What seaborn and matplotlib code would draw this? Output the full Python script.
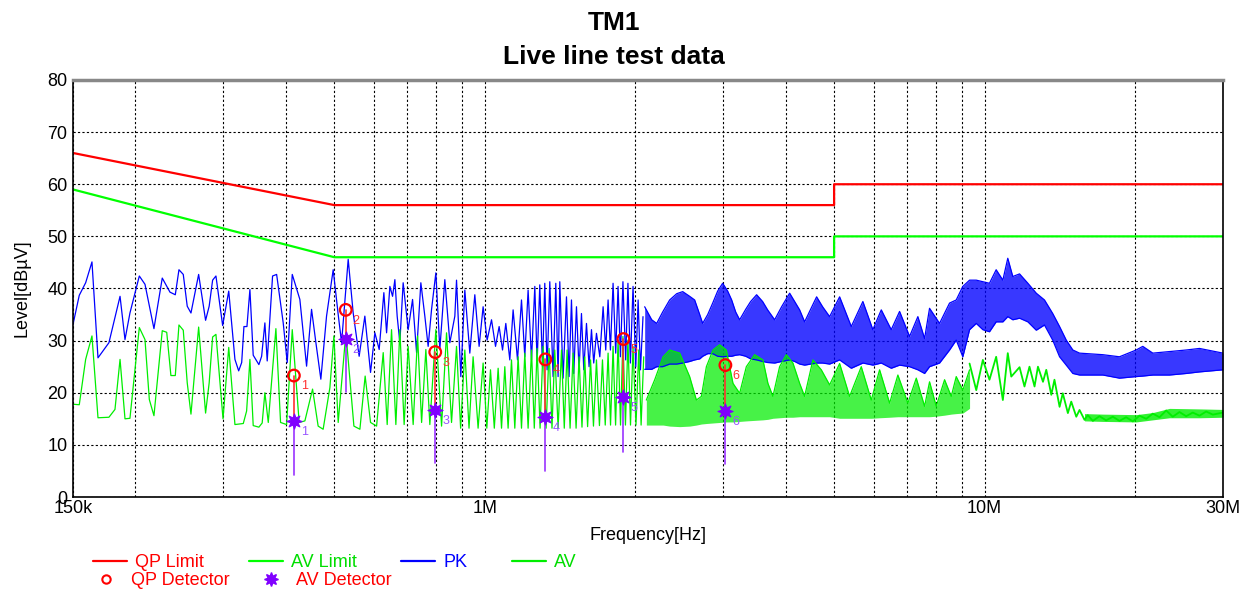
import numpy as np
import seaborn as sns
import matplotlib.pyplot as plt
from matplotlib.lines import Line2D
from matplotlib.ticker import FixedLocator, NullFormatter

sns.set_style('white')
plt.rcParams['font.family'] = ['Liberation Sans', 'DejaVu Sans']
plt.rcParams['text.color'] = 'black'
plt.rcParams['axes.labelcolor'] = 'black'
plt.rcParams['xtick.color'] = 'black'
plt.rcParams['ytick.color'] = 'black'

# limit lines (MHz, dBuV)
limit_freq = [0.15, 0.5, 5, 5, 30]
qp_limit = [66, 56, 56, 60, 60]
av_limit = [59, 46, 46, 50, 50]

# PK trace, 150k - 2M read point by point (kHz)
pk_freq_khz = [
    150.0, 154.4, 159.0, 163.7, 168.3, 177.0, 186.3, 190.6, 195.0, 203.6,
    209.0, 217.8, 226.3, 234.5, 240.3, 244.4, 249.3, 253.9, 258.3, 267.6,
    276.3, 280.9, 285.4, 289.8, 298.9, 307.4, 316.3, 321.8, 326.3, 329.7,
    334.3, 338.9, 344.1, 353.2, 357.7, 363.1, 367.0, 376.2, 383.3, 395.1,
    402.5, 411.9, 426.6, 440.0, 450.2, 459.3, 469.9, 482.4, 497.4, 509.0,
    517.0, 533.0, 545.4, 560.6, 575.5, 590.8, 602.7, 614.8, 628.2, 636.1,
    645.8, 653.9, 660.9, 667.9, 676.2, 686.6, 702.6, 717.0, 730.4, 744.9,
    758.7, 770.4, 782.6, 798.2, 813.0, 831.9, 851.3, 871.2, 878.0, 895.5,
    912.2, 933.4, 955.2, 974.3, 992.4, 1010.9, 1031.6, 1050.8, 1068.4, 1085.3,
    1101.8, 1122.3, 1139.5, 1162.8, 1184.4, 1202.6, 1221.0, 1240.3, 1259.3, 1272.7,
    1288.5, 1304.7, 1318.5, 1332.6, 1349.3, 1369.9, 1387.1, 1401.9, 1412.9, 1434.5,
    1457.1, 1474.7, 1491.0, 1506.9, 1525.8, 1544.1, 1561.3, 1578, 1597.8, 1617,
    1635, 1652, 1673, 1699, 1725, 1746, 1765, 1784, 1806, 1828,
    1848, 1868, 1890, 1914, 1934, 1956, 1980, 2005, 2027, 2049,
    2073]
pk_level = [
    33.1, 38.7, 41.1, 45.1, 26.7, 29.6, 38.5, 30.2, 35.3, 42.4,
    40.8, 32.3, 42.0, 39.3, 38.8, 43.6, 42.7, 36.6, 35.3, 42.7,
    33.9, 36.6, 41.6, 42.4, 32.9, 39.5, 26.4, 24.2, 25.8, 32.7,
    32.7, 39.8, 27.2, 25.4, 27.0, 33.4, 26.1, 42.4, 42.7, 33.4,
    25.8, 42.7, 37.9, 25.1, 36.0, 29.6, 22.6, 34.7, 43.6, 35.0,
    29.6, 45.6, 35.3, 27.0, 34.7, 23.9, 31.5, 28.3, 39.2, 31.5,
    40.4, 38.5, 41.7, 34.7, 29.6, 41.1, 32.1, 37.9, 27.7, 41.1,
    34.7, 28.9, 36.0, 43.0, 28.3, 41.7, 29.6, 34.7, 41.6, 23.1,
    39.7, 27.6, 38.8, 28.9, 36.5, 30.1, 34.0, 28.9, 32.7, 28.2,
    33.3, 26.3, 35.9, 26.3, 37.8, 26.9, 39.7, 26.3, 40.4, 25.7,
    40.7, 25.0, 41.0, 24.4, 41.3, 23.1, 41.0, 23.1, 41.3, 22.8,
    38.4, 23.1, 37.8, 23.7, 36.5, 24.1, 35.2, 24.4, 33.3, 25.0,
    32.1, 25.7, 31.4, 26.9, 36.5, 28.2, 37.8, 28.2, 41.0, 27.6,
    40.4, 26.9, 41.3, 26.3, 41.0, 25.7, 40.4, 25.0, 37.8, 24.4,
    34.6]

# PK trace above 2M, dense: upper / lower envelope (MHz)
pk_band_freq = [
    2.089, 2.158, 2.208, 2.270, 2.344, 2.421, 2.489, 2.570, 2.630, 2.692,
    2.729, 2.793, 2.858, 2.924, 2.992, 3.062, 3.119, 3.177, 3.236, 3.327,
    3.404, 3.499, 3.597, 3.681, 3.802, 3.926, 4.074, 4.169, 4.266, 4.365,
    4.487, 4.613, 4.742, 4.898, 5.129, 5.412, 5.709, 5.978, 6.214, 6.506,
    6.761, 7.079, 7.355, 7.586, 7.762, 8.128, 8.511, 8.777, 9.048, 9.333,
    9.625, 9.922, 10.23, 10.55, 10.88, 11.13, 11.39, 11.75, 12.21, 12.69,
    13.18, 13.69, 14.13, 14.57, 15.02, 15.49, 17.25, 18.62, 20.11, 20.73,
    21.71, 23.44, 25.32, 26.92, 30.0]
pk_band_hi = [
    36.5, 34.0, 33.3, 35.5, 37.8, 39.0, 39.4, 38.5, 37.8, 35.0,
    33.3, 35.0, 37.2, 39.5, 41.0, 39.5, 37.8, 35.5, 34.0, 36.0,
    37.5, 38.8, 37.5, 35.9, 34.0, 36.5, 39.1, 37.5, 35.9, 33.6,
    36.0, 38.4, 36.5, 34.6, 38.4, 32.7, 37.5, 32.1, 35.9, 32.1,
    35.6, 30.8, 34.6, 30.4, 36.2, 33.3, 37.2, 37.8, 40.4, 41.6,
    41.6, 41.3, 41.0, 43.6, 41.6, 45.8, 42.3, 42.8, 41.0, 39.1,
    37.8, 35.2, 32.7, 30.1, 28.2, 27.6, 27.3, 26.9, 28.2, 28.9,
    27.6, 27.9, 28.2, 28.5, 27.6]
pk_band_lo = [
    24.5, 24.5, 25.0, 25.0, 25.5, 25.5, 25.7, 26.0, 26.3, 26.5,
    27.0, 27.5, 27.5, 27.0, 26.9, 27.0, 27.0, 27.2, 27.3, 27.0,
    26.5, 26.3, 26.0, 25.8, 25.7, 26.0, 26.3, 26.0, 25.5, 25.3,
    25.5, 25.7, 25.7, 25.5, 26.3, 24.7, 25.7, 25.3, 25.7, 24.7,
    25.3, 25.0, 24.4, 23.7, 25.0, 25.7, 28.2, 30.1, 26.9, 32.1,
    33.3, 32.1, 31.7, 33.6, 33.6, 34.6, 34.0, 34.3, 33.6, 32.0,
    33.0, 30.1, 26.9, 25.3, 23.7, 23.4, 23.4, 22.8, 23.1, 23.2,
    23.4, 23.4, 23.7, 24.0, 24.4]

# AV trace, 150k - 2M (kHz)
av_freq_khz = [
    150.0, 154.4, 159.0, 163.7, 168.3, 177.0, 182.0, 186.3, 190.6, 195.0,
    203.6, 209.0, 213.2, 217.8, 226.3, 231.0, 235.5, 240.3, 244.4, 249.3,
    253.9, 258.3, 267.6, 276.3, 280.9, 285.4, 289.8, 299.4, 307.4, 316.3,
    328.7, 333.8, 338.9, 344.1, 353.2, 358.6, 363.1, 368.8, 382.0, 390.3,
    401.3, 411.9, 425.2, 436.6, 452.3, 464.1, 474.9, 489.9, 499.0, 509.0,
    527.4, 547.2, 562.5, 576.3, 590.8, 607.5, 626.3, 637.9, 650.8, 663.9,
    676.2, 689.7, 702.6, 719.0, 733.8, 747.5, 762.3, 776.4, 798.2, 819.5,
    838.5, 858.0, 878.0, 894.7, 912.2, 930.0, 947.7, 969.7, 992.4, 1009.5,
    1026.7, 1044.9, 1063.5, 1080.3, 1096.7, 1113.5, 1131.0, 1148.4, 1166.0, 1184.4,
    1202.6, 1221.0, 1240.3, 1256.3, 1272.7, 1290.3, 1308.3, 1326.5, 1344.9, 1363.0,
    1380.6, 1401.9, 1424.0, 1442.4, 1461.2, 1481.5, 1502.1, 1523.0, 1544.1, 1565,
    1585, 1606, 1628, 1650, 1673, 1696, 1720, 1742, 1765, 1785,
    1806, 1827, 1848, 1869, 1890, 1912, 1934, 1957, 1980, 2007,
    2033, 2055, 2080]
av_level = [
    17.8, 17.7, 26.4, 30.9, 15.2, 15.3, 16.8, 26.4, 15.0, 15.1,
    32.5, 30.2, 18.7, 15.6, 31.9, 31.6, 23.3, 23.3, 33.0, 32.0,
    21.9, 15.9, 32.6, 16.1, 21.9, 30.7, 31.2, 15.0, 28.7, 13.9,
    14.1, 16.5, 26.4, 13.7, 13.4, 14.2, 20.0, 14.3, 32.3, 14.3,
    13.9, 32.1, 14.3, 14.6, 20.7, 13.6, 13.0, 21.0, 30.9, 14.3,
    31.5, 13.6, 13.0, 23.2, 14.3, 13.6, 27.7, 13.9, 32.1, 13.9,
    32.1, 13.9, 28.9, 13.9, 30.9, 14.3, 28.3, 13.9, 32.1, 13.6,
    31.5, 14.3, 28.9, 13.2, 28.2, 13.2, 26.9, 13.2, 25.7, 13.2,
    24.4, 13.2, 24.7, 13.2, 25.0, 13.2, 26.3, 13.2, 26.9, 13.2,
    27.6, 13.2, 28.2, 13.2, 28.5, 13.2, 28.9, 13.2, 28.5, 13.2,
    28.2, 13.2, 28.2, 13.2, 28.2, 13.2, 27.6, 13.2, 26.9, 13.4,
    26.9, 13.5, 26.3, 13.6, 26.3, 13.7, 26.3, 13.8, 27.6, 13.8,
    28.9, 13.8, 30.1, 13.8, 30.8, 13.8, 30.1, 13.8, 28.9, 13.8,
    28.2, 13.8, 26.9]

# AV trace 2M - 9.3M, dense: envelope (MHz)
av_band_freq = [
    2.105, 2.188, 2.274, 2.344, 2.455, 2.570, 2.651, 2.713, 2.776, 2.862,
    2.951, 3.043, 3.138, 3.236, 3.337, 3.467, 3.602, 3.686, 3.772, 3.890,
    4.012, 4.136, 4.266, 4.365, 4.535, 4.714, 4.898, 5.129, 5.370, 5.667,
    5.934, 6.166, 6.457, 6.708, 7.024, 7.301, 7.586, 7.762, 8.005, 8.318,
    8.578, 8.777, 9.048, 9.333]
av_band_hi = [
    18.6, 22.5, 26.9, 28.2, 27.6, 23.1, 18.6, 19.3, 25.0, 28.2,
    29.2, 28.2, 21.8, 19.9, 25.0, 27.3, 26.3, 21.8, 19.3, 25.0,
    27.3, 25.7, 21.8, 19.3, 26.3, 24.4, 21.5, 25.6, 19.3, 25.0,
    18.6, 24.4, 18.0, 23.4, 18.0, 22.8, 17.4, 22.1, 17.4, 22.5,
    19.3, 23.1, 20.5, 24.4]
av_band_lo = [
    13.8, 13.8, 13.8, 13.6, 13.5, 13.6, 13.8, 14.0, 14.1, 14.2,
    14.3, 14.4, 14.4, 14.5, 14.6, 14.7, 14.8, 14.9, 15.1, 15.2,
    15.3, 15.3, 15.4, 15.4, 15.4, 15.4, 15.4, 15.1, 15.1, 15.1,
    15.1, 15.2, 15.3, 15.4, 15.4, 15.4, 15.4, 15.4, 15.5, 15.7,
    15.9, 16.0, 16.1, 17.0]

# AV trace 9.3M - 30M (MHz)
av_tail_freq = [
    9.333, 9.625, 9.922, 10.23, 10.55, 10.88, 11.13, 11.31, 11.75, 12.02,
    12.30, 12.59, 12.79, 13.09, 13.29, 13.60, 13.80, 14.13, 14.34, 14.68,
    14.91, 15.26, 15.49, 15.85, 16.09, 16.47, 16.98, 17.51, 18.06, 18.62,
    19.20, 19.80, 20.42, 21.06, 21.71, 22.39, 23.09, 23.80, 24.55, 25.32,
    26.10, 26.92, 27.76, 28.62, 30.0]
av_tail_level = [
    25.6, 20.5, 26.3, 22.5, 26.9, 18.6, 27.6, 23.1, 24.9, 21.2,
    25.0, 21.2, 25.0, 22.1, 24.4, 19.6, 22.5, 17.3, 19.9, 16.1,
    18.3, 15.4, 16.7, 14.8, 15.7, 14.6, 15.5, 14.7, 15.4, 14.6,
    15.3, 14.5, 15.6, 15.0, 16.0, 15.3, 16.6, 15.4, 16.3, 15.5,
    16.2, 15.6, 16.4, 15.8, 16.2]
av_noise_freq = [15.85, 17.25, 20.11, 21.71, 23.44, 26.92, 30.0]
av_noise_hi = [16.0, 15.9, 15.8, 16.2, 17.0, 16.9, 16.8]
av_noise_lo = [14.6, 14.5, 14.4, 14.8, 15.2, 15.2, 15.3]

# final measurements
det_no = [1, 2, 3, 4, 5, 6]
det_freq = [0.415, 0.527, 0.796, 1.322, 1.894, 3.03]
qp_det = [23.3, 35.9, 27.8, 26.4, 30.3, 25.3]
av_det = [14.5, 30.3, 16.7, 15.3, 19.1, 16.5]
av_det_low = [4.2, 20.1, 6.5, 5.0, 8.7, 6.3]

RED = '#ff0000'
GREEN = '#00ee00'
LIM_GREEN = '#00ff00'
BLUE = '#0000ff'
PURPLE = '#8000ff'

fig, ax = plt.subplots(figsize=(12.43, 5.89), dpi=100)
fig.subplots_adjust(left=73/1243, right=1223/1243, bottom=92/589, top=509/589)
ax.set_xscale('log')

# PK
pk_f = np.array(pk_freq_khz) / 1000
sns.lineplot(x=pk_f, y=pk_level, color=BLUE, lw=0.9, sort=False, estimator=None, ax=ax)
ax.fill_between(pk_band_freq, pk_band_lo, pk_band_hi, color=BLUE, alpha=0.78, lw=0)
sns.lineplot(x=pk_band_freq, y=pk_band_hi, color=BLUE, lw=0.9, sort=False, estimator=None, ax=ax)
sns.lineplot(x=pk_band_freq, y=pk_band_lo, color=BLUE, lw=0.9, sort=False, estimator=None, ax=ax)

# AV
av_f = np.array(av_freq_khz) / 1000
sns.lineplot(x=av_f, y=av_level, color=GREEN, lw=0.9, sort=False, estimator=None, ax=ax)
ax.fill_between(av_band_freq, av_band_lo, av_band_hi, color=GREEN, alpha=0.72, lw=0)
sns.lineplot(x=av_band_freq, y=av_band_hi, color=GREEN, lw=0.9, sort=False, estimator=None, ax=ax)
ax.fill_between(av_noise_freq, av_noise_lo, av_noise_hi, color=GREEN, alpha=0.8, lw=0)
sns.lineplot(x=av_tail_freq, y=av_tail_level, color=GREEN, lw=1.3, sort=False, estimator=None, ax=ax)

# limits
sns.lineplot(x=limit_freq, y=qp_limit, color=RED, lw=1.6, sort=False, estimator=None, ax=ax)
sns.lineplot(x=limit_freq, y=av_limit, color=LIM_GREEN, lw=1.6, sort=False, estimator=None, ax=ax)

# detector markers
for n, f, q, a, lo in zip(det_no, det_freq, qp_det, av_det, av_det_low):
    ax.plot([f, f], [a, q], color='#ff3030', lw=1.2, zorder=4)
    ax.plot([f, f], [lo, a], color='#9933ff', lw=1.2, zorder=4)
    ax.annotate(str(n), (f, q), xytext=(5, -10), textcoords='offset points',
                color='#ff3030', fontsize=9)
    ax.annotate(str(n), (f, a), xytext=(5, -10), textcoords='offset points',
                color='#9955ff', fontsize=9)
sns.scatterplot(x=det_freq, y=qp_det, marker='o', s=70, facecolor='none',
                edgecolor=RED, linewidth=1.6, ax=ax, zorder=5)
sns.scatterplot(x=det_freq, y=av_det, marker=(8, 1, 0), s=120, color=PURPLE,
                edgecolor=PURPLE, linewidth=0.8, ax=ax, zorder=5)

# axes
ax.set_xlim(0.15, 30)
ax.set_ylim(0, 80)
ax.set_yticks(range(0, 81, 10))
ax.xaxis.set_major_locator(FixedLocator([0.15, 1, 10, 30]))
ax.set_xticklabels(['150k', '1M', '10M', '30M'])
ax.xaxis.set_minor_locator(FixedLocator([0.2, 0.3, 0.4, 0.5, 0.6, 0.7, 0.8, 0.9,
                                         2, 3, 4, 5, 6, 7, 8, 9, 20]))
ax.xaxis.set_minor_formatter(NullFormatter())
ax.grid(True, which='both', axis='x', color='black', ls=(0, (2, 2)), lw=0.8)
ax.grid(True, which='major', axis='y', color='black', ls=(0, (2, 2)), lw=0.8)
ax.set_axisbelow(True)
ax.tick_params(which='both', length=0)
ax.tick_params(axis='y', labelsize=13, pad=4)
ax.tick_params(axis='x', labelsize=13, pad=2)
for s in ['left', 'right', 'bottom']:
    ax.spines[s].set_color('black')
    ax.spines[s].set_linewidth(1.2)
ax.spines['top'].set_color('#888888')
ax.spines['top'].set_linewidth(2.5)

ax.set_xlabel('Frequency[Hz]', fontsize=13, labelpad=7)
ax.set_ylabel('Level[dBµV]', fontsize=13, labelpad=12)
fig.text(0.494, 1 - 40/589, 'TM1\nLive line test data', ha='center', va='center',
         fontsize=19, fontweight='bold', linespacing=1.55)

# legend
row1 = [Line2D([], [], color=RED, lw=1.6), Line2D([], [], color=LIM_GREEN, lw=1.6),
        Line2D([], [], color=BLUE, lw=1.6), Line2D([], [], color=GREEN, lw=1.6)]
fig.legend(row1, ['QP Limit', 'AV Limit', 'PK', 'AV'], loc='upper left',
           bbox_to_anchor=(93/1243, 1 - 554/589), ncol=4, frameon=False, fontsize=13,
           handlelength=1.9, handletextpad=0.45, columnspacing=2.45, borderpad=0,
           borderaxespad=0, labelcolor=[RED, '#00dd00', BLUE, '#00dd00'])
row2 = [Line2D([], [], ls='none', marker='o', mfc='none', mec=RED, ms=6, mew=1.5),
        Line2D([], [], ls='none', marker=(8, 1, 0), color=PURPLE, ms=10)]
fig.legend(row2, ['QP Detector', 'AV Detector'], loc='upper left',
           bbox_to_anchor=(89/1243, 1 - 572/589), ncol=2, frameon=False, fontsize=13,
           handlelength=1.9, handletextpad=0.45, columnspacing=1.33, borderpad=0,
           borderaxespad=0, labelcolor=[RED, RED])

fig.savefig('out.png', dpi=100)
